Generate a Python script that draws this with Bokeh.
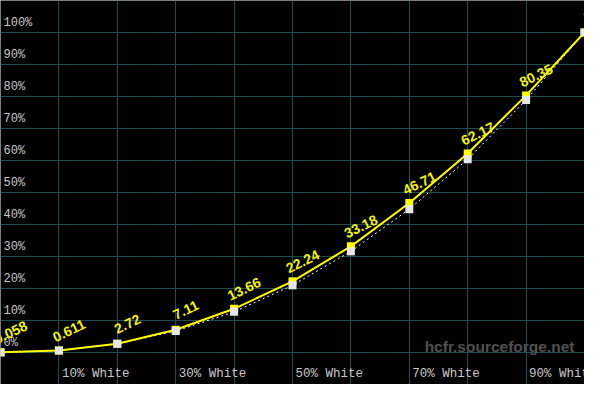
from bokeh.plotting import figure
from bokeh.models import Range1d, FixedTicker, ColumnDataSource, Label
from bokeh.core.properties import value
from bokeh.embed import file_html
from bokeh.resources import INLINE

# data
levels = [0, 10, 20, 30, 40, 50, 60, 70, 80, 90, 100]
measured = [0.058, 0.611, 2.72, 7.11, 13.66, 22.24, 33.18, 46.71, 62.17, 80.35, 100.0]
measured_labels = ["0.058", "0.611", "2.72", "7.11", "13.66", "22.24", "33.18", "46.71", "62.17", "80.35", "100"]
reference = [0.0, 0.6, 2.7, 6.7, 12.7, 21.0, 31.6, 44.8, 60.4, 78.9, 100.0]
y_ticks = [0, 10, 20, 30, 40, 50, 60, 70, 80, 90, 100]
y_tick_labels = ["0%", "10%", "20%", "30%", "40%", "50%", "60%", "70%", "80%", "90%", "100%"]
x_ticks = [10, 20, 30, 40, 50, 60, 70, 80, 90, 100]
x_label_pos = [10, 30, 50, 70, 90]
x_labels = ["10% White", "30% White", "50% White", "70% White", "90% White"]

X_MIN, X_MAX = 0, 100
Y_MIN, Y_MAX = -10, 110

p = figure(width=584, height=384, output_backend="svg", toolbar_location=None,
           x_range=Range1d(X_MIN, X_MAX), y_range=Range1d(Y_MIN, Y_MAX),
           min_border=0, background_fill_color="black", border_fill_color="black")
p.outline_line_color = None
p.xaxis.visible = False
p.yaxis.visible = False
p.xgrid.ticker = FixedTicker(ticks=x_ticks)
p.ygrid.ticker = FixedTicker(ticks=y_ticks)
p.grid.grid_line_color = "#1f4c4c"
p.grid.grid_line_width = 1

# axis tick labels drawn inside
p.text(x=[X_MIN] * len(y_ticks), y=y_ticks, text=y_tick_labels,
       text_font=value("Liberation Mono"), text_font_size="12px", text_color="#c8c8c8",
       text_align="left", text_baseline="bottom", x_offset=3, y_offset=-3)
p.text(x=x_label_pos, y=[Y_MIN] * len(x_label_pos), text=x_labels,
       text_font=value("Liberation Mono"), text_font_size="12.5px", text_color="#c8c8c8",
       text_align="left", text_baseline="bottom", x_offset=3, y_offset=-4)

# watermark
p.add_layout(Label(x=574, y=38, x_units="screen", y_units="screen", text="hcfr.sourceforge.net",
                   text_font="Liberation Sans", text_font_style="bold", text_font_size="15.5px",
                   text_color="#505050", text_align="right", text_baseline="alphabetic"))

src = ColumnDataSource(dict(x=levels, m=measured, r=reference, lab=measured_labels,
                            ang=[0.45] * len(levels)))

p.line("x", "r", source=src, line_color="white", line_width=1, line_dash="2 3")
p.line("x", "m", source=src, line_color="#ffff00", line_width=2)
p.scatter("x", "m", source=src, marker="square", size=8, fill_color="#ffff00", line_color=None)
p.scatter("x", "r", source=src, marker="square", size=8, fill_color="#e6e6e6", line_color=None)

p.text("x", "m", text="lab", angle="ang", source=src, text_font=value("Liberation Sans"),
       text_font_style="bold", text_font_size="14px", text_color="#f0f020",
       text_align="center", text_baseline="middle", x_offset=10, y_offset=-20)

open("out.html", "w").write(file_html(p, INLINE))
